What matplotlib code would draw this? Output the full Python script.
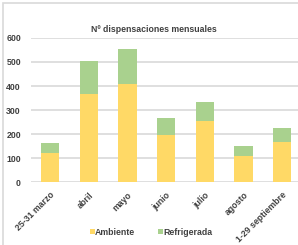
import matplotlib
matplotlib.use("Agg")
import matplotlib.pyplot as plt
from matplotlib.patches import Rectangle
import numpy as np

categories = ["25-31 marzo", "abril", "mayo", "junio", "julio", "agosto", "1-29 septiembre"]
ambiente = [120, 365, 410, 195, 255, 110, 168]
refrigerada = [42, 140, 143, 70, 78, 40, 58]
yticks = [0, 100, 200, 300, 400, 500, 600]

YELLOW = "#FFD966"
GREEN = "#A9D18E"
TEXT = "#404040"

plt.rcParams["font.family"] = ["Liberation Sans", "DejaVu Sans"]

W, H = 298, 245
fig = plt.figure(figsize=(W / 100, H / 100), dpi=100)

# outer chart frame (right and bottom run off the image)
fig.patches.append(Rectangle((3 / W, -0.05), 1.1, 1 - 3 / H + 0.05,
                             transform=fig.transFigure, fill=False,
                             edgecolor="#D9D9D9", linewidth=1.2))

ax = fig.add_axes([30.7 / W, 1 - 182 / H, (301.6 - 30.7) / W, 144 / H])
x = np.arange(len(categories))
ax.bar(x, ambiente, width=0.47, color=YELLOW, label="Ambiente", zorder=3)
ax.bar(x, refrigerada, width=0.47, bottom=ambiente, color=GREEN,
       label="Refrigerada", zorder=3)

ax.set_xlim(-0.5, len(categories) - 0.5)
ax.set_ylim(0, 600)
ax.set_yticks(yticks)
ax.set_yticklabels([str(v) for v in yticks], fontsize=6.3, fontweight="bold", color=TEXT)
ax.set_xticks(x)
ax.set_xticklabels(categories, rotation=45, ha="right", rotation_mode="anchor",
                   fontsize=6.3, fontweight="bold", color=TEXT)
ax.tick_params(axis="y", length=0, pad=7)
ax.tick_params(axis="x", length=0, pad=6)
ax.grid(axis="y", color="#D9D9D9", linewidth=1.2, zorder=0)
for s in ax.spines.values():
    s.set_visible(False)

fig.text(154 / W, 1 - 29 / H, "Nº dispensaciones mensuales", ha="center", va="center",
         fontsize=6.3, fontweight="bold", color=TEXT)

fig.legend(loc="center", bbox_to_anchor=(151 / W, 1 - 232 / H), ncol=2, frameon=False,
           prop={"size": 6.3, "weight": "bold"}, labelcolor=TEXT, handlelength=0.55,
           handleheight=0.55, handletextpad=0.05, columnspacing=2.6)

fig.savefig("out.png", dpi=100)
